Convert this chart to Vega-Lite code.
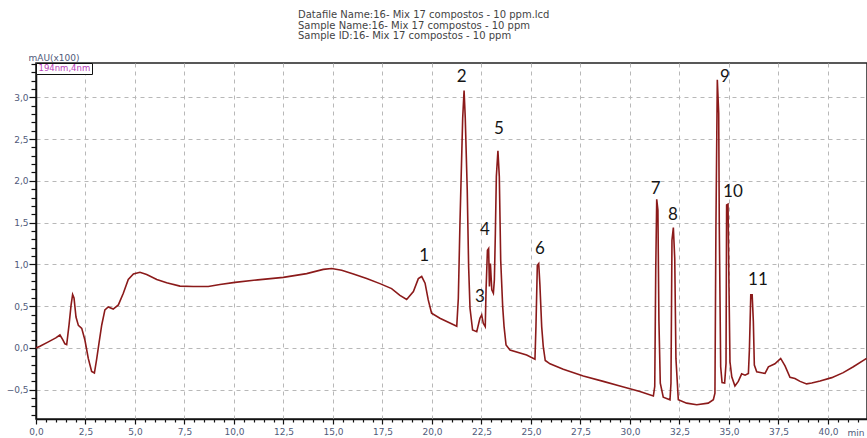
{
  "$schema": "https://vega.github.io/schema/vega-lite/v6.json",
  "width": 831,
  "height": 356,
  "autosize": "none",
  "padding": {"left": 36, "top": 63, "right": 0, "bottom": 19},
  "background": "white",
  "config": {
    "view": {"stroke": "#222", "strokeWidth": 1.5},
    "axis": {
      "labelFont": "DejaVu Sans",
      "labelFontSize": 9,
      "labelColor": "#505a7a",
      "domainColor": "#111",
      "domainWidth": 1.5,
      "tickColor": "#111",
      "tickWidth": 1.2,
      "gridColor": "#b8b8b8",
      "gridDash": [4, 4],
      "gridWidth": 1,
      "titleFont": "DejaVu Sans",
      "titleFontWeight": "normal",
      "titleFontSize": 9,
      "titleColor": "#505a7a"
    }
  },
  "title": {
    "text": [
      "Datafile Name:16- Mix 17 compostos - 10 ppm.lcd",
      "Sample Name:16- Mix 17 compostos - 10 ppm",
      "Sample ID:16- Mix 17 compostos - 10 ppm"
    ],
    "anchor": "start",
    "frame": "group",
    "dx": 262,
    "offset": 12,
    "font": "DejaVu Sans",
    "fontSize": 10,
    "fontWeight": "normal",
    "lineHeight": 10.5,
    "color": "#444"
  },
  "datasets": {
    "trace": [
      {"t": 0.00, "v": 0.00}, {"t": 0.20, "v": 0.02}, {"t": 0.60, "v": 0.07}, {"t": 1.00, "v": 0.12},
      {"t": 1.21, "v": 0.155}, {"t": 1.35, "v": 0.10}, {"t": 1.46, "v": 0.05}, {"t": 1.55, "v": 0.04},
      {"t": 1.67, "v": 0.28}, {"t": 1.77, "v": 0.51}, {"t": 1.85, "v": 0.64}, {"t": 1.92, "v": 0.60},
      {"t": 2.02, "v": 0.37}, {"t": 2.14, "v": 0.27}, {"t": 2.31, "v": 0.235}, {"t": 2.47, "v": 0.095},
      {"t": 2.64, "v": -0.125}, {"t": 2.81, "v": -0.28}, {"t": 2.95, "v": -0.30}, {"t": 3.06, "v": -0.14},
      {"t": 3.18, "v": 0.055}, {"t": 3.32, "v": 0.275}, {"t": 3.48, "v": 0.455}, {"t": 3.65, "v": 0.49},
      {"t": 3.90, "v": 0.465}, {"t": 4.16, "v": 0.515}, {"t": 4.41, "v": 0.655}, {"t": 4.66, "v": 0.82},
      {"t": 4.92, "v": 0.885}, {"t": 5.25, "v": 0.905}, {"t": 5.59, "v": 0.88}, {"t": 6.10, "v": 0.82},
      {"t": 6.60, "v": 0.78}, {"t": 7.27, "v": 0.74}, {"t": 7.94, "v": 0.735}, {"t": 8.70, "v": 0.735},
      {"t": 9.29, "v": 0.76}, {"t": 10.05, "v": 0.785}, {"t": 11.20, "v": 0.815}, {"t": 12.49, "v": 0.845},
      {"t": 13.67, "v": 0.89}, {"t": 14.51, "v": 0.94}, {"t": 14.93, "v": 0.95}, {"t": 15.44, "v": 0.93},
      {"t": 16.03, "v": 0.885}, {"t": 16.70, "v": 0.83}, {"t": 17.37, "v": 0.77}, {"t": 17.96, "v": 0.71},
      {"t": 18.38, "v": 0.63}, {"t": 18.72, "v": 0.58}, {"t": 19.06, "v": 0.675}, {"t": 19.31, "v": 0.83},
      {"t": 19.48, "v": 0.855}, {"t": 19.65, "v": 0.775}, {"t": 19.81, "v": 0.575}, {"t": 19.98, "v": 0.415},
      {"t": 20.40, "v": 0.355}, {"t": 21.25, "v": 0.26}, {"t": 21.33, "v": 0.595}, {"t": 21.41, "v": 1.47},
      {"t": 21.55, "v": 2.75}, {"t": 21.62, "v": 3.08}, {"t": 21.68, "v": 2.75}, {"t": 21.78, "v": 1.89},
      {"t": 21.85, "v": 0.975}, {"t": 21.92, "v": 0.475}, {"t": 22.05, "v": 0.215}, {"t": 22.26, "v": 0.195},
      {"t": 22.42, "v": 0.355}, {"t": 22.51, "v": 0.395}, {"t": 22.59, "v": 0.295}, {"t": 22.69, "v": 0.255},
      {"t": 22.73, "v": 0.695}, {"t": 22.80, "v": 1.17}, {"t": 22.86, "v": 1.19}, {"t": 22.90, "v": 0.735},
      {"t": 22.95, "v": 1.01}, {"t": 23.02, "v": 0.695}, {"t": 23.10, "v": 0.655}, {"t": 23.15, "v": 0.815},
      {"t": 23.20, "v": 1.37}, {"t": 23.25, "v": 2.05}, {"t": 23.33, "v": 2.36}, {"t": 23.40, "v": 2.05},
      {"t": 23.47, "v": 1.05}, {"t": 23.57, "v": 0.495}, {"t": 23.64, "v": 0.255}, {"t": 23.74, "v": 0.035},
      {"t": 23.94, "v": -0.025}, {"t": 24.78, "v": -0.085}, {"t": 25.20, "v": -0.135}, {"t": 25.25, "v": 0.255},
      {"t": 25.32, "v": 0.99}, {"t": 25.39, "v": 1.01}, {"t": 25.45, "v": 0.755}, {"t": 25.54, "v": 0.255},
      {"t": 25.62, "v": 0.015}, {"t": 25.72, "v": -0.15}, {"t": 25.96, "v": -0.19}, {"t": 26.63, "v": -0.255},
      {"t": 27.64, "v": -0.335}, {"t": 28.65, "v": -0.40}, {"t": 29.49, "v": -0.455}, {"t": 30.50, "v": -0.52},
      {"t": 31.18, "v": -0.575}, {"t": 31.25, "v": -0.46}, {"t": 31.30, "v": 0.93}, {"t": 31.35, "v": 1.78},
      {"t": 31.41, "v": 1.65}, {"t": 31.46, "v": 0.335}, {"t": 31.53, "v": -0.42}, {"t": 31.68, "v": -0.59},
      {"t": 32.02, "v": -0.62}, {"t": 32.07, "v": -0.42}, {"t": 32.12, "v": 1.29}, {"t": 32.19, "v": 1.44},
      {"t": 32.26, "v": 1.07}, {"t": 32.32, "v": -0.125}, {"t": 32.44, "v": -0.62}, {"t": 32.86, "v": -0.66},
      {"t": 33.37, "v": -0.68}, {"t": 33.95, "v": -0.66}, {"t": 34.21, "v": -0.62}, {"t": 34.29, "v": -0.54},
      {"t": 34.34, "v": 1.45}, {"t": 34.41, "v": 3.21}, {"t": 34.48, "v": 2.81}, {"t": 34.51, "v": 1.45},
      {"t": 34.58, "v": -0.225}, {"t": 34.65, "v": -0.415}, {"t": 34.78, "v": -0.42}, {"t": 34.85, "v": -0.185},
      {"t": 34.88, "v": 1.71}, {"t": 34.95, "v": 1.72}, {"t": 35.00, "v": 0.715}, {"t": 35.05, "v": -0.165},
      {"t": 35.14, "v": -0.345}, {"t": 35.30, "v": -0.455}, {"t": 35.47, "v": -0.40}, {"t": 35.64, "v": -0.31},
      {"t": 35.81, "v": -0.325}, {"t": 35.98, "v": -0.305}, {"t": 36.03, "v": -0.025}, {"t": 36.10, "v": 0.635},
      {"t": 36.17, "v": 0.635}, {"t": 36.23, "v": 0.315}, {"t": 36.28, "v": -0.205}, {"t": 36.40, "v": -0.285},
      {"t": 36.82, "v": -0.305}, {"t": 36.99, "v": -0.225}, {"t": 37.32, "v": -0.19}, {"t": 37.61, "v": -0.125},
      {"t": 37.83, "v": -0.215}, {"t": 38.08, "v": -0.35}, {"t": 38.33, "v": -0.365}, {"t": 38.59, "v": -0.40},
      {"t": 38.92, "v": -0.43}, {"t": 39.18, "v": -0.42}, {"t": 39.60, "v": -0.395}, {"t": 40.19, "v": -0.355},
      {"t": 40.77, "v": -0.295}, {"t": 41.28, "v": -0.225}, {"t": 41.95, "v": -0.125}
    ],
    "peaks": [
      {"label": "1", "t": 19.6, "v": 1.10},
      {"label": "2", "t": 21.5, "v": 3.24},
      {"label": "3", "t": 22.42, "v": 0.61},
      {"label": "4", "t": 22.67, "v": 1.41},
      {"label": "5", "t": 23.38, "v": 2.62},
      {"label": "6", "t": 25.45, "v": 1.18},
      {"label": "7", "t": 31.3, "v": 1.90},
      {"label": "8", "t": 32.17, "v": 1.59},
      {"label": "9", "t": 34.8, "v": 3.24},
      {"label": "10", "t": 35.2, "v": 1.87},
      {"label": "11", "t": 36.46, "v": 0.81}
    ]
  },
  "layer": [
    {
      "data": {"name": "trace"},
      "mark": {"type": "line", "strokeWidth": 1.6, "interpolate": "linear"},
      "encoding": {
        "x": {
          "field": "t",
          "type": "quantitative",
          "scale": {"domain": [0, 41.97], "nice": false, "zero": false},
          "axis": {
            "values": [0,0.5,1,1.5,2,2.5,3,3.5,4,4.5,5,5.5,6,6.5,7,7.5,8,8.5,9,9.5,10,10.5,11,11.5,12,12.5,13,13.5,14,14.5,15,15.5,16,16.5,17,17.5,18,18.5,19,19.5,20,20.5,21,21.5,22,22.5,23,23.5,24,24.5,25,25.5,26,26.5,27,27.5,28,28.5,29,29.5,30,30.5,31,31.5,32,32.5,33,33.5,34,34.5,35,35.5,36,36.5,37,37.5,38,38.5,39,39.5,40,40.5,41,41.5],
            "tickCount": 500,
            "labelExpr": "datum.value % 2.5 === 0 ? replace(format(datum.value, '.1f'), '.', ',') : ''",
            "labelPadding": 3,
            "labelFlush": false,
            "labelOverlap": false,
            "tickSize": {"condition": {"test": "datum.value % 2.5 === 0", "value": 5}, "value": 3},
            "grid": true,
            "gridOpacity": {"condition": {"test": "datum.value % 2.5 === 0", "value": 1}, "value": 0},
            "title": "min",
            "titleAlign": "left",
            "titleBaseline": "middle",
            "titleX": 811,
            "titleY": 13,
            "titleAnchor": null
          }
        },
        "y": {
          "field": "v",
          "type": "quantitative",
          "scale": {"domain": [-0.85, 3.41], "nice": false, "zero": false},
          "axis": {
            "values": [-0.8,-0.7,-0.6,-0.5,-0.4,-0.3,-0.2,-0.1,0,0.1,0.2,0.3,0.4,0.5,0.6,0.7,0.8,0.9,1,1.1,1.2,1.3,1.4,1.5,1.6,1.7,1.8,1.9,2,2.1,2.2,2.3,2.4,2.5,2.6,2.7,2.8,2.9,3,3.1,3.2,3.3,3.4],
            "tickCount": 500,
            "labelExpr": "abs(round(datum.value * 10) % 5) === 0 ? replace(format(datum.value, '.1f'), '.', ',') : ''",
            "labelPadding": 1,
            "labelFlush": false,
            "labelOverlap": false,
            "tickSize": {"condition": {"test": "abs(round(datum.value * 10) % 5) === 0", "value": 7}, "value": 5},
            "grid": true,
            "gridOpacity": {"condition": {"test": "abs(round(datum.value * 10) % 5) === 0", "value": 1}, "value": 0},
            "title": "mAU(x100)",
            "titleAngle": 0,
            "titleAlign": "left",
            "titleBaseline": "alphabetic",
            "titleX": -8,
            "titleY": -3,
            "titleAnchor": null
          }
        },
        "color": {
          "datum": "194nm,4nm",
          "type": "nominal",
          "scale": {"range": ["#8b1a1a"]},
          "legend": {
            "orient": "none",
            "legendX": 0,
            "legendY": 0,
            "title": null,
            "strokeColor": "#111",
            "fillColor": "white",
            "padding": 1,
            "symbolSize": 0,
            "symbolOpacity": 0,
            "symbolStrokeWidth": 0,
            "labelOffset": -7,
            "labelColor": "#b83dba",
            "labelFont": "DejaVu Sans",
            "labelFontSize": 8.5
          }
        }
      }
    },
    {
      "data": {"name": "peaks"},
      "mark": {"type": "text", "font": "Lato", "fontSize": 17, "color": "#161616", "align": "center", "baseline": "middle"},
      "encoding": {
        "x": {"field": "t", "type": "quantitative"},
        "y": {"field": "v", "type": "quantitative"},
        "text": {"field": "label", "type": "nominal"}
      }
    }
  ]
}
